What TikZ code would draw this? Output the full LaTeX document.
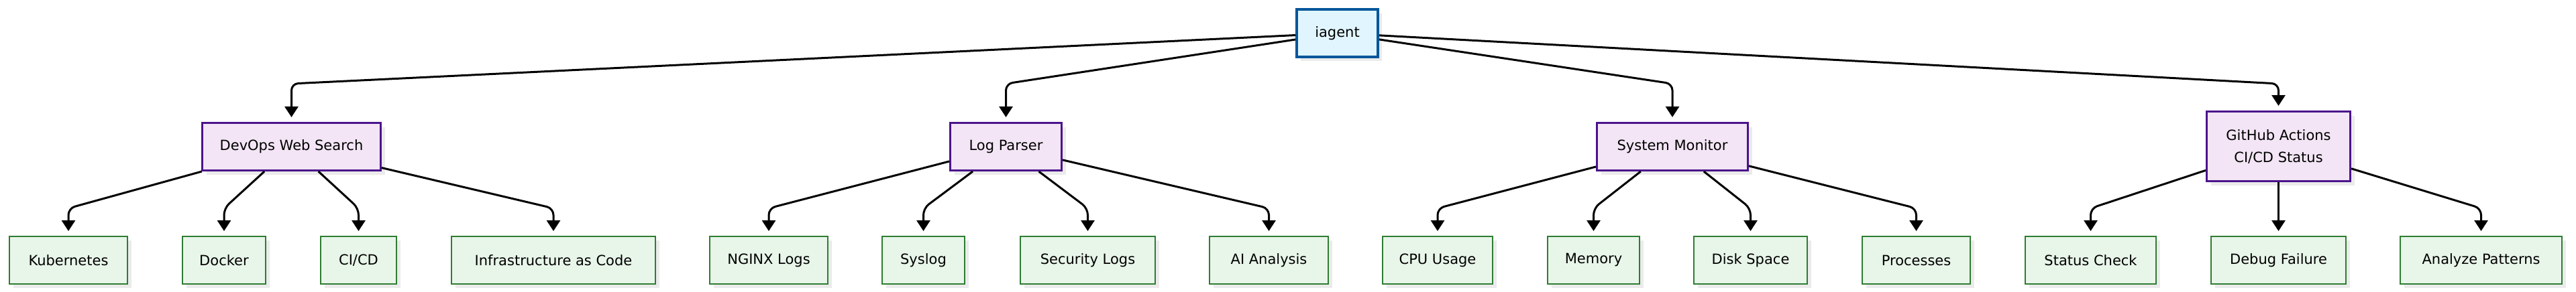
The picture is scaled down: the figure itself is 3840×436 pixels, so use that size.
\documentclass[tikz,border=0pt]{standalone}
\usepackage{fontspec}
\setmainfont{DejaVu Sans}
\usetikzlibrary{arrows.meta,shadows}
\definecolor{rootfill}{HTML}{E1F5FE}
\definecolor{rootdraw}{HTML}{01579B}
\definecolor{midfill}{HTML}{F3E5F5}
\definecolor{middraw}{HTML}{4A148C}
\definecolor{leaffill}{HTML}{E8F5E9}
\definecolor{leafdraw}{HTML}{2E7D32}
\definecolor{shadowgray}{HTML}{EBEBEB}
\begin{document}
\begin{tikzpicture}[x=1pt,y=-1pt,
  box/.style={rectangle, inner sep=0pt, align=center, text=black,
    font=\fontsize{21}{33}\selectfont,
    drop shadow={shadow xshift=6pt, shadow yshift=-6pt, fill=shadowgray, opacity=1, draw=none}},
  rootbox/.style={box, fill=rootfill, draw=rootdraw, line width=4pt, minimum height=71pt},
  midbox/.style={box, fill=midfill, draw=middraw, line width=3pt, minimum height=71pt},
  leafbox/.style={box, fill=leaffill, draw=leafdraw, line width=2pt, minimum height=71pt},
  edge/.style={draw=black, line width=3pt, rounded corners=10pt,
    -{Triangle[width=20pt,length=16pt]}, shorten >=7pt},
]
\fill[white] (0,0) rectangle (3840,436);
\useasboundingbox (0,0) rectangle (3840,436);

\coordinate (ytop) at (0,125);
\coordinate (ybot) at (0,311);

% root
\node[rootbox, minimum width=121pt] (root) at (1993.5,49.5) {iagent};

% middle level
\node[midbox, minimum width=266pt] (devops) at (434.5,219) {DevOps Web Search};
\node[midbox, minimum width=166pt] (logp) at (1499.5,219) {Log Parser};
\node[midbox, minimum width=225pt] (sysmon) at (2493,219) {System Monitor};
\node[midbox, minimum width=214pt, minimum height=104pt] (gh) at (3396.5,218.5) {GitHub Actions\\CI/CD Status};

% leaves
\node[leafbox, minimum width=176pt] (kub) at (102,388.5) {Kubernetes};
\node[leafbox, minimum width=124pt] (dock) at (334,388.5) {Docker};
\node[leafbox, minimum width=113pt] (cicd) at (534.5,388.5) {CI/CD};
\node[leafbox, minimum width=304pt] (iac) at (825,388.5) {Infrastructure as Code};

\node[leafbox, minimum width=176pt] (nginx) at (1146,388.5) {NGINX Logs};
\node[leafbox, minimum width=123pt] (syslog) at (1376.5,388.5) {Syslog};
\node[leafbox, minimum width=201pt] (secl) at (1621.5,388.5) {Security Logs};
\node[leafbox, minimum width=177pt] (ai) at (1891.5,388.5) {AI Analysis};

\node[leafbox, minimum width=164pt] (cpu) at (2143,388.5) {CPU Usage};
\node[leafbox, minimum width=137pt] (mem) at (2375.5,388.5) {Memory};
\node[leafbox, minimum width=169pt] (disk) at (2609.5,388.5) {Disk Space};
\node[leafbox, minimum width=161pt] (proc) at (2856.5,388.5) {Processes};

\node[leafbox, minimum width=195pt] (stat) at (3116.5,388.5) {Status Check};
\node[leafbox, minimum width=201pt] (dbg) at (3396.5,388.5) {Debug Failure};
\node[leafbox, minimum width=241pt] (anl) at (3698.5,388.5) {Analyze Patterns};

% root edges
\draw[edge] (root) -- (devops.north |- ytop) -- (devops.north);
\draw[edge] (root) -- (logp.north |- ytop) -- (logp.north);
\draw[edge] (root) -- (sysmon.north |- ytop) -- (sysmon.north);
\draw[edge] (root) -- (gh.north |- ytop) -- (gh.north);

% DevOps edges
\draw[edge] (devops) -- (kub.north |- ybot) -- (kub.north);
\draw[edge] (devops) -- (dock.north |- ybot) -- (dock.north);
\draw[edge] (devops) -- (cicd.north |- ybot) -- (cicd.north);
\draw[edge] (devops) -- (iac.north |- ybot) -- (iac.north);

% Log parser edges
\draw[edge] (logp) -- (nginx.north |- ybot) -- (nginx.north);
\draw[edge] (logp) -- (syslog.north |- ybot) -- (syslog.north);
\draw[edge] (logp) -- (secl.north |- ybot) -- (secl.north);
\draw[edge] (logp) -- (ai.north |- ybot) -- (ai.north);

% System monitor edges
\draw[edge] (sysmon) -- (cpu.north |- ybot) -- (cpu.north);
\draw[edge] (sysmon) -- (mem.north |- ybot) -- (mem.north);
\draw[edge] (sysmon) -- (disk.north |- ybot) -- (disk.north);
\draw[edge] (sysmon) -- (proc.north |- ybot) -- (proc.north);

% GitHub edges
\draw[edge] (gh) -- (stat.north |- ybot) -- (stat.north);
\draw[edge] (gh) -- (dbg.north);
\draw[edge] (gh) -- (anl.north |- ybot) -- (anl.north);
\end{tikzpicture}
\end{document}
